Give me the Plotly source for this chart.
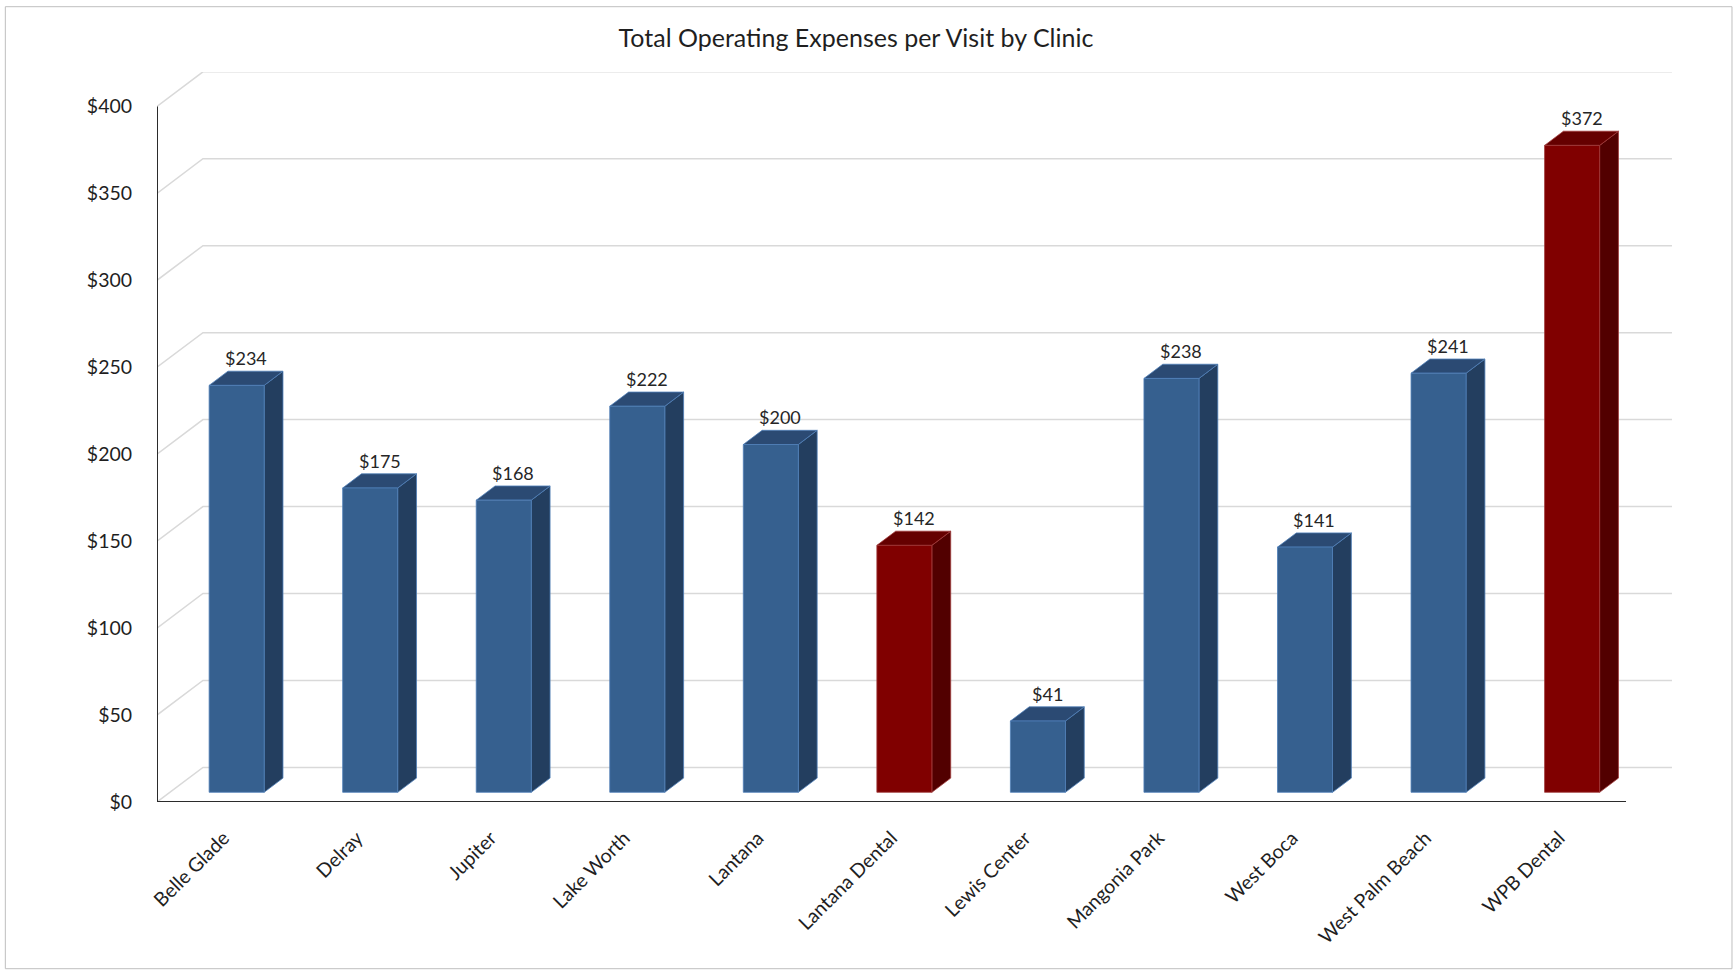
import plotly.graph_objects as go

clinics = ["Belle Glade", "Delray", "Jupiter", "Lake Worth", "Lantana", "Lantana Dental",
           "Lewis Center", "Mangonia Park", "West Boca", "West Palm Beach", "WPB Dental"]
expenses = [234, 175, 168, 222, 200, 142, 41, 238, 141, 241, 372]
is_dental = [False, False, False, False, False, True, False, False, False, False, True]
y_ticks = [0, 50, 100, 150, 200, 250, 300, 350, 400]
y_tick_labels = ["$" + str(v) for v in y_ticks]
title_text = "Total Operating Expenses per Visit by Clinic"

# oblique 3D projection parameters (in data units)
DX = 0.344      # depth offset along x (category units)
DY = 19.9       # depth offset along y (dollars)
D0, D1 = 0.28, 0.69   # bar depth span (fraction of full depth)
HW = 0.206      # half-width of bar (category units)
N = len(clinics)

colors = {
    False: dict(front="#36608F", side="#233E5F", top="#2B4A73", edge="#4F7FB8"),
    True: dict(front="#800000", side="#520000", top="#650000", edge="#A03A3A"),
}

fig = go.Figure()

# gridlines (back wall + left wall)
gx, gy = [], []
for v in y_ticks:
    gx += [0, DX, N + DX, None]
    gy += [v, v + DY, v + DY, None]
fig.add_trace(go.Scatter(x=gx, y=gy, mode="lines",
                         line=dict(color="#D9D9D9", width=1.5), hoverinfo="skip"))

# axis lines (front)
fig.add_trace(go.Scatter(x=[0, 0, N], y=[y_ticks[-1], 0, 0], mode="lines",
                         line=dict(color="#2B2B2B", width=2), hoverinfo="skip"))

# bars
for dental in (False, True):
    c = colors[dental]
    fx, fy, sx, sy, tx, ty = [], [], [], [], [], []
    for i, (v, d) in enumerate(zip(expenses, is_dental)):
        if d != dental:
            continue
        cx = i + 0.5
        xl, xr = cx - HW, cx + HW
        a0x, a0y = D0 * DX, D0 * DY
        a1x, a1y = D1 * DX, D1 * DY
        fx += [xl + a0x, xr + a0x, xr + a0x, xl + a0x, xl + a0x, None]
        fy += [a0y, a0y, v + a0y, v + a0y, a0y, None]
        sx += [xr + a0x, xr + a1x, xr + a1x, xr + a0x, xr + a0x, None]
        sy += [a0y, a1y, v + a1y, v + a0y, a0y, None]
        tx += [xl + a0x, xr + a0x, xr + a1x, xl + a1x, xl + a0x, None]
        ty += [v + a0y, v + a0y, v + a1y, v + a1y, v + a0y, None]
    for px, py, col in ((sx, sy, c["side"]), (tx, ty, c["top"]), (fx, fy, c["front"])):
        fig.add_trace(go.Scatter(x=px, y=py, mode="lines", fill="toself", fillcolor=col,
                                 line=dict(color=c["edge"], width=0.8), hoverinfo="skip"))

# data labels
for i, v in enumerate(expenses):
    fig.add_annotation(x=i + 0.5 + (D0 + D1) / 2 * DX, y=v + D1 * DY,
                       text="$" + str(v), showarrow=False, yanchor="bottom", yshift=0,
                       font=dict(family="Lato", size=18, color="#262626"))

L, R, T, B = 156.7, 1672.0, 72.3, 802.3
W, H = 1736, 973
fig.update_layout(
    width=W, height=H,
    margin=dict(l=L, r=W - R, t=T, b=H - B, autoexpand=False),
    paper_bgcolor="white", plot_bgcolor="white",
    showlegend=False, hovermode=False,
    title=dict(text=title_text, x=856 / W, xref="container", xanchor="center",
               y=1 - 38 / H, yref="container", yanchor="middle",
               font=dict(family="Lato", size=25, color="#1F1F1F")),
    xaxis=dict(range=[0, N + DX + (R - L) / ((1626 - L) / N) - N - DX], showgrid=False, zeroline=False,
               showline=False, tickmode="array", tickvals=[i + 0.5 for i in range(N)],
               ticktext=clinics, tickangle=-45, ticks="outside", ticklen=16,
               tickcolor="rgba(0,0,0,0)",
               tickfont=dict(family="Lato", size=19.5, color="#1F1F1F"), fixedrange=True),
    yaxis=dict(range=[0, (B - T) / ((B - 106.7) / 400)], showgrid=False, zeroline=False,
               showline=False, tickmode="array", tickvals=y_ticks, ticktext=y_tick_labels,
               ticks="outside", ticklen=20, tickcolor="rgba(0,0,0,0)",
               tickfont=dict(family="Lato", size=19.5, color="#1F1F1F"), fixedrange=True),
    shapes=[dict(type="rect", xref="paper", yref="paper",
                 x0=(5 - L) / (R - L), x1=(1732 - L) / (R - L),
                 y0=(B - 969) / (B - T), y1=(B - 7) / (B - T),
                 line=dict(color="#BFBFBF", width=1), fillcolor="rgba(0,0,0,0)", layer="below")],
)

fig.write_html("out.html")
